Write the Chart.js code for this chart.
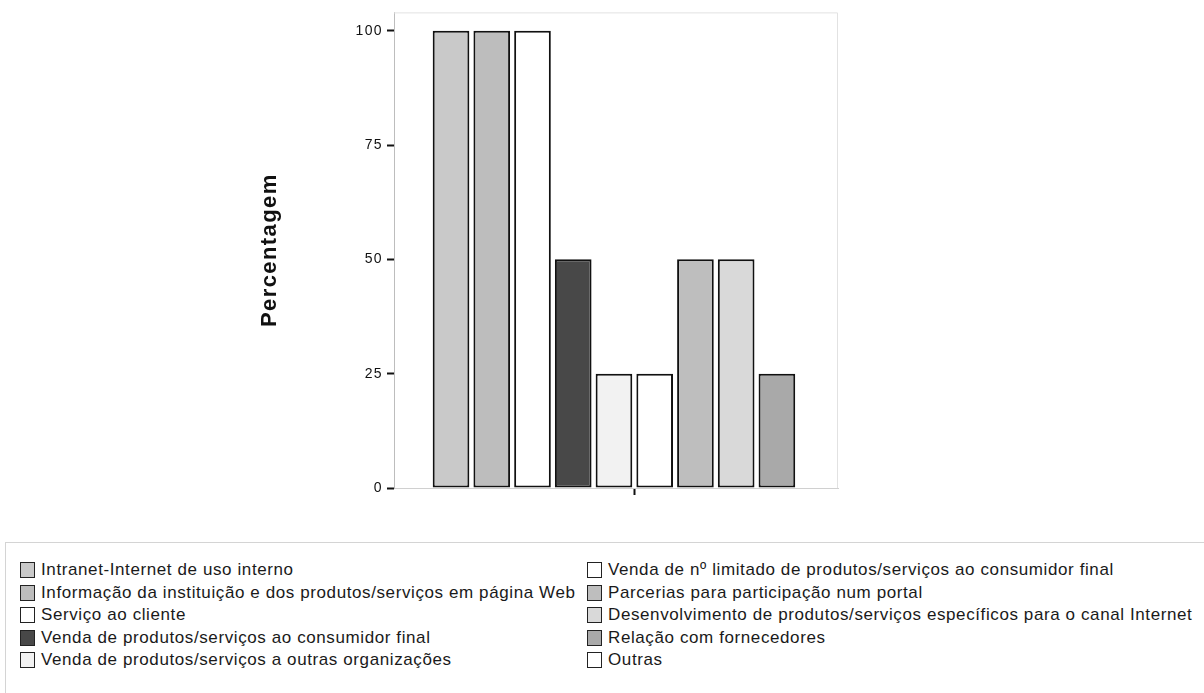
<!DOCTYPE html>
<html lang="pt">
<head>
  <meta charset="UTF-8">
  <title>Percentagem</title>
  <script src="https://cdn.jsdelivr.net/npm/chart.js"></script>
  <style>
    body {
      margin: 0;
      background: #fff;
      font-family: 'Liberation Sans', Arial, sans-serif;
      width: 1204px;
      height: 693px;
      overflow: hidden;
      position: relative;
    }
    .chart-box {
      position: absolute;
      left: 0;
      top: 0;
      width: 1204px;
      height: 530px;
    }
    #legend {
      position: absolute;
      left: 5px;
      top: 542px;
      width: 1220px;
      height: 200px;
      box-sizing: border-box;
      border: 1px solid #d4d4d4;
      padding: 16px 0 0 14px;
      display: grid;
      grid-template-columns: 567px auto;
      grid-template-rows: repeat(5, 22.5px);
      grid-auto-flow: column;
      color: #1a1a1a;
      font-size: 17px;
      letter-spacing: 0.6px;
    }
    #legend .item {
      display: flex;
      align-items: center;
      white-space: nowrap;
    }
    #legend .swatch {
      width: 13px;
      height: 14px;
      border: 1.5px solid #222;
      margin-right: 6px;
      box-sizing: content-box;
    }
  </style>
</head>
<body>

<div class="chart-box"><canvas id="usoChart" width="1204" height="530"></canvas></div>
<div id="legend"></div>

<script>
  // Categorias (ordem das barras e da legenda)
  const categories = [
    "Intranet-Internet de uso interno",
    "Informação da instituição e dos produtos/serviços em página Web",
    "Serviço ao cliente",
    "Venda de produtos/serviços ao consumidor final",
    "Venda de produtos/serviços a outras organizações",
    "Venda de nº limitado de produtos/serviços ao consumidor final",
    "Parcerias para participação num portal",
    "Desenvolvimento de produtos/serviços específicos para o canal Internet",
    "Relação com fornecedores",
    "Outras"
  ];
  const percentages = [100, 100, 100, 50, 25, 25, 50, 50, 25, 0];
  const fills = ["#c9c9c9", "#bdbdbd", "#ffffff", "#484848", "#f2f2f2",
                 "#ffffff", "#bebebe", "#d9d9d9", "#a9a9a9", "#ffffff"];
  const yTicks = [0, 25, 50, 75, 100];

  // moldura cinzenta clara (topo e direita) + espaçamento das letras
  const framePlugin = {
    id: 'frame',
    beforeDraw(chart) {
      chart.ctx.letterSpacing = '1.4px';
    },
    beforeDatasetsDraw(chart) {
      const { ctx, chartArea: a } = chart;
      ctx.save();
      ctx.strokeStyle = '#e2e2e2';
      ctx.lineWidth = 1;
      ctx.beginPath();
      ctx.moveTo(a.left, a.top + 0.5);
      ctx.lineTo(a.right - 0.5, a.top + 0.5);
      ctx.lineTo(a.right - 0.5, a.bottom);
      ctx.stroke();
      ctx.restore();
    }
  };

  const chart = new Chart(document.getElementById('usoChart'), {
    type: 'bar',
    data: {
      datasets: [{
        data: percentages.map((v, i) => ({ x: i + 1, y: v })),
        backgroundColor: fills,
        borderColor: '#111',
        borderWidth: 2,
        borderSkipped: false,
        categoryPercentage: 1,
        barPercentage: 0.9
      }]
    },
    options: {
      responsive: false,
      animation: false,
      layout: { padding: { left: 257, right: 366, top: 12, bottom: 35 } },
      plugins: {
        legend: { display: false },
        tooltip: { enabled: false }
      },
      scales: {
        x: {
          type: 'linear',
          offset: false,
          min: -0.4,
          max: 10.5,
          // um único traço no centro do grupo de barras
          afterBuildTicks: scale => { scale.ticks = [{ value: 5.5 }]; },
          ticks: { display: false },
          grid: { offset: false, drawOnChartArea: false, tickColor: '#111', tickWidth: 2, tickLength: 7 },
          border: { color: '#d0d0d0', width: 1 }
        },
        y: {
          min: 0,
          max: 104,
          afterBuildTicks: scale => { scale.ticks = yTicks.map(v => ({ value: v })); },
          afterFit: scale => { scale.width = 137; },
          ticks: {
            color: '#111',
            padding: 4,
            font: { family: "'Liberation Sans', Arial", size: 14 }
          },
          grid: { drawOnChartArea: false, tickColor: '#111', tickWidth: 2, tickLength: 7 },
          border: { color: '#bdbdbd', width: 1 },
          title: {
            display: true,
            text: 'Percentagem',
            color: '#111',
            padding: 0,
            font: { family: "'Liberation Sans', Arial", size: 22, weight: 'bold' }
          }
        }
      }
    },
    plugins: [framePlugin]
  });

  // legenda em duas colunas
  const legendDiv = document.getElementById('legend');
  categories.forEach((name, i) => {
    legendDiv.innerHTML += `
      <div class="item"><span class="swatch" style="background:${fills[i]}"></span>${name}</div>`;
  });
</script>
</body>
</html>
